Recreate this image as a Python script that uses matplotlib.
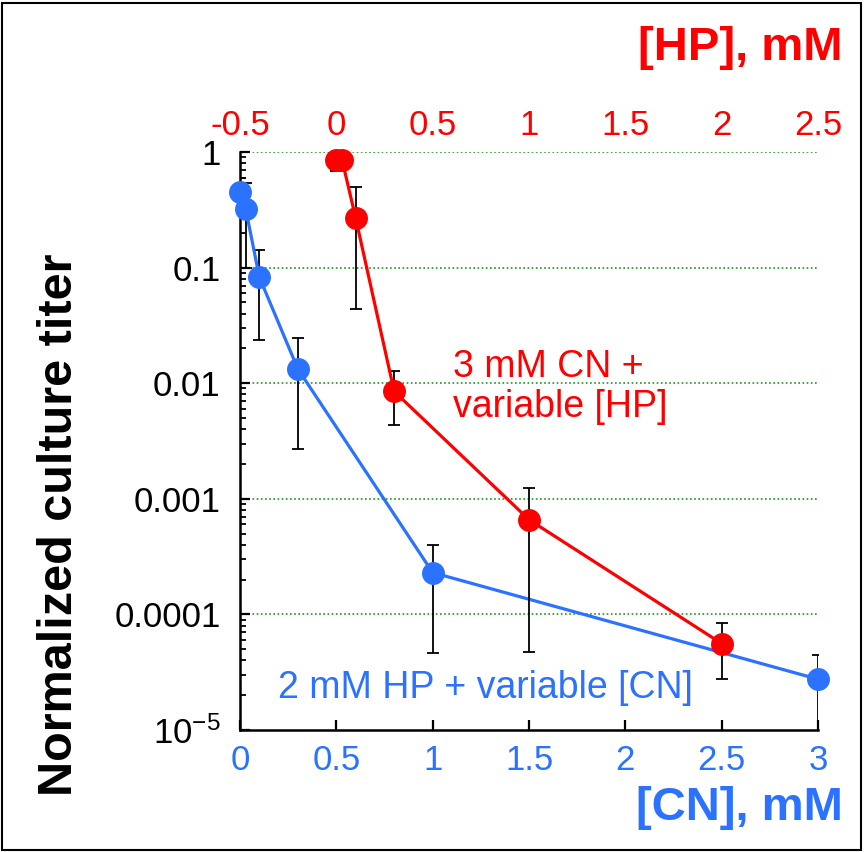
# -*- coding: utf-8 -*-

import numpy as np
import matplotlib
matplotlib.use('Agg')
import matplotlib.pyplot as plt
from matplotlib.patches import Rectangle
from matplotlib.ticker import LogLocator, FixedLocator, FixedFormatter, NullFormatter

plt.rcParams['font.family'] = ['Liberation Sans', 'DejaVu Sans']

# 2 mM HP + variable [CN]  (bottom axis)
cn = [0, 0.03, 0.1, 0.3, 1, 3]
cn_titer = [0.45, 0.32, 0.083, 0.0133, 2.3e-4, 2.75e-5]
cn_low = [0.10, 0.10, 0.0236, 0.0027, 4.6e-5, 3e-6]
cn_high = [0.6, 0.54, 0.142, 0.0244, 4.0e-4, 4.46e-5]

# 3 mM CN + variable [HP]  (top axis)
hp = [0, 0.03, 0.1, 0.3, 1, 2]
hp_titer = [0.85, 0.85, 0.27, 0.0085, 6.6e-4, 5.6e-5]
hp_low = [0.685, 0.8, 0.0436, 0.00435, 4.76e-5, 2.76e-5]
hp_high = [1.0, 0.9, 0.495, 0.0128, 1.23e-3, 8.4e-5]

cn_ticks = [0, 0.5, 1, 1.5, 2, 2.5, 3]
cn_ticklabels = ['0', '0.5', '1', '1.5', '2', '2.5', '3']
hp_ticks = [-0.5, 0, 0.5, 1, 1.5, 2, 2.5]
hp_ticklabels = ['-0.5', '0', '0.5', '1', '1.5', '2', '2.5']
y_ticks = [1e-5, 1e-4, 1e-3, 1e-2, 1e-1, 1]
y_ticklabels = [r'$\mathregular{10^{-5}}$', '0.0001', '0.001', '0.01', '0.1', '1']

blue = '#2a72ff'
red = '#ff0000'

fig = plt.figure(figsize=(8.64, 8.52), dpi=100)
ax = fig.add_axes([240 / 864, 1 - 730 / 852, 578 / 864, 578 / 852])

# 误差棒 + 曲线
def draw(a, x, y, lo, hi, color):
    y = np.array(y)
    yerr = [y - np.array(lo), np.array(hi) - y]
    a.errorbar(x, y, yerr=yerr, fmt='none', ecolor='black', elinewidth=1.3,
               capsize=4, capthick=1.3, zorder=3)
    a.plot(x, y, '-', color=color, linewidth=2.3, zorder=4, clip_on=False)
    a.plot(x, y, 'o', color=color, markersize=15.5, zorder=5, clip_on=False)

draw(ax, cn, cn_titer, cn_low, cn_high, blue)

ax.set_yscale('log')
ax.set_ylim(1e-5, 1)
ax.set_xlim(0, 3)
ax.yaxis.set_major_locator(FixedLocator(y_ticks))
ax.yaxis.set_major_formatter(FixedFormatter(y_ticklabels))
ax.yaxis.set_minor_locator(LogLocator(base=10, subs=np.arange(2, 10)))
ax.yaxis.set_minor_formatter(NullFormatter())
ax.set_xticks(cn_ticks)
ax.set_xticklabels(cn_ticklabels)
for yv in y_ticks[1:]:
    ax.axhline(yv, color='#1a9a1a', linestyle=(0, (1, 1.5)), linewidth=1.2, zorder=1)

ax.spines['top'].set_visible(False)
ax.spines['right'].set_visible(False)
ax.spines['left'].set_linewidth(1.8)
ax.spines['bottom'].set_linewidth(1.8)
ax.tick_params(axis='y', which='major', direction='in', length=7, width=1.6,
               labelsize=25, pad=14)
ax.tick_params(axis='y', which='minor', direction='in', length=4, width=1.3)
ax.tick_params(axis='x', which='major', direction='in', length=7, width=1.6,
               labelsize=25, labelcolor=blue, pad=10)

ax2 = ax.twiny()
draw(ax2, hp, hp_titer, hp_low, hp_high, red)
ax2.set_xlim(-0.5, 2.5)
ax2.set_ylim(1e-5, 1)
ax2.set_xticks(hp_ticks)
ax2.set_xticklabels(hp_ticklabels)
ax2.tick_params(axis='x', length=0, labelsize=25, labelcolor=red, pad=7)
for s in ax2.spines.values():
    s.set_visible(False)

ax.text((453 - 240) / 578, 1 - (387 - 152) / 578, '3 mM CN +\nvariable [HP]',
        transform=ax.transAxes, color=red, fontsize=27, ha='left', va='center',
        linespacing=1.12)
ax.text((278 - 240) / 578, 1 - (688 - 152) / 578, '2 mM HP + variable [CN]',
        transform=ax.transAxes, color=blue, fontsize=27, ha='left', va='center')

fig.text(843 / 864, 1 - 48 / 852, '[HP], mM', color=red, fontsize=34,
         fontweight='bold', ha='right', va='center')
fig.text(843 / 864, 1 - 808 / 852, '[CN], mM', color=blue, fontsize=34,
         fontweight='bold', ha='right', va='center')
fig.text(60 / 864, 1 - 525 / 852, 'Normalized culture titer', color='black',
         fontsize=35, fontweight='bold', rotation=90, ha='center', va='center')

fig.patches.append(Rectangle((0.002, 0.002), 0.994, 0.995, transform=fig.transFigure,
                             fill=False, edgecolor='black', linewidth=1.5))

fig.savefig('out.png', dpi=100)
